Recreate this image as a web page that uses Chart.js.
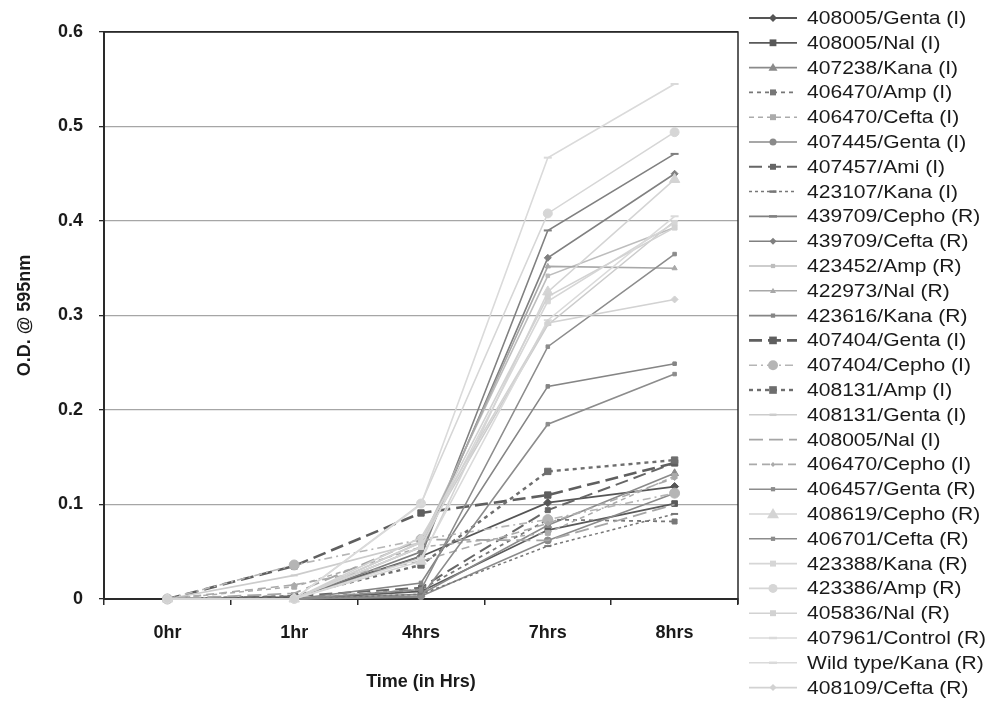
<!DOCTYPE html>
<html>
<head>
<meta charset="utf-8">
<script src="https://cdn.jsdelivr.net/npm/chart.js@4"></script>
<style>
  html, body { margin: 0; padding: 0; background: #fff; }
  #wrap { width: 989px; height: 708px; }
</style>
</head>
<body>
<div id="wrap"><canvas id="odChart" width="989" height="708"></canvas></div>
<script>
const categories = ["0hr", "1hr", "4hrs", "7hrs", "8hrs"];
const yTicks = [0, 0.1, 0.2, 0.3, 0.4, 0.5, 0.6];

const seriesNames = [
  "408005/Genta (I)", "408005/Nal (I)", "407238/Kana (I)", "406470/Amp (I)",
  "406470/Cefta (I)", "407445/Genta (I)", "407457/Ami (I)", "423107/Kana (I)",
  "439709/Cepho (R)", "439709/Cefta (R)", "423452/Amp (R)", "422973/Nal (R)",
  "423616/Kana (R)", "407404/Genta (I)", "407404/Cepho (I)", "408131/Amp (I)",
  "408131/Genta (I)", "408005/Nal (I)", "406470/Cepho (I)", "406457/Genta (R)",
  "408619/Cepho (R)", "406701/Cefta (R)", "423388/Kana (R)", "423386/Amp (R)",
  "405836/Nal (R)", "407961/Control (R)", "Wild type/Kana (R)", "408109/Cefta (R)"
];

const seriesValues = [
  [0, 0.002, 0.045, 0.102, 0.119],
  [0, 0, 0.008, 0.073, 0.101],
  [0, 0, 0.005, 0.078, 0.133],
  [0, 0, 0.010, 0.084, 0.082],
  [0, 0.013, 0.055, 0.070, 0.130],
  [0, 0, 0.003, 0.062, 0.112],
  [0, 0.003, 0.012, 0.094, 0.144],
  [0, 0, 0.005, 0.056, 0.090],
  [0, 0, 0.045, 0.390, 0.471],
  [0, 0, 0.050, 0.361, 0.450],
  [0, 0, 0.060, 0.342, 0.393],
  [0, 0, 0.055, 0.352, 0.350],
  [0, 0, 0.017, 0.225, 0.249],
  [0, 0.035, 0.091, 0.110, 0.144],
  [0, 0.036, 0.063, 0.084, 0.112],
  [0, 0.003, 0.036, 0.135, 0.147],
  [0, 0.025, 0.060, 0.290, 0.400],
  [0, 0.006, 0.063, 0.062, 0.100],
  [0, 0.015, 0.040, 0.080, 0.128],
  [0, 0, 0.002, 0.185, 0.238],
  [0, 0, 0.040, 0.325, 0.444],
  [0, 0, 0.010, 0.267, 0.365],
  [0, 0, 0.055, 0.315, 0.398],
  [0, 0, 0.101, 0.408, 0.494],
  [0, 0, 0.060, 0.320, 0.393],
  [0, 0, 0.043, 0.295, 0.405],
  [0, 0, 0.100, 0.467, 0.545],
  [0, 0, 0.065, 0.292, 0.317]
];

// color, dash, line width, marker, marker radius
const seriesStyles = [
  ["#555555", [], 1.8, "rectRot", 4],
  ["#595959", [], 1.8, "rect", 4],
  ["#8a8a8a", [], 1.6, "triangle", 4.5],
  ["#777777", [4, 4], 1.8, "rect", 3.5],
  ["#ababab", [5, 4], 1.5, "rect", 3.5],
  ["#8a8a8a", [], 1.6, "circle", 3.5],
  ["#666666", [13, 6], 2, "rect", 3.5],
  ["#777777", [3, 3], 1.5, "line", 3.5],
  ["#808080", [], 1.6, "line", 4],
  ["#808080", [], 1.6, "rectRot", 3.5],
  ["#bdbdbd", [], 1.6, "rect", 2.5],
  ["#a8a8a8", [], 1.6, "triangle", 3],
  ["#858585", [], 1.6, "rect", 2.5],
  ["#5f5f5f", [13, 6], 2.6, "rect", 4.5],
  ["#b5b5b5", [8, 4, 2, 4], 1.6, "circle", 5],
  ["#6e6e6e", [4, 4], 2.4, "rect", 4.5],
  ["#cccccc", [], 1.6, "line", 3.5],
  ["#a5a5a5", [14, 6], 1.8, false, 0],
  ["#aaaaaa", [8, 5], 1.6, "rectRot", 2.5],
  ["#8c8c8c", [], 1.6, "rect", 2.5],
  ["#d4d4d4", [], 1.6, "triangle", 6],
  ["#8c8c8c", [], 1.6, "rect", 2.5],
  ["#d6d6d6", [], 1.6, "rect", 3.5],
  ["#d6d6d6", [], 1.6, "circle", 4.5],
  ["#d2d2d2", [], 1.6, "rect", 3.5],
  ["#dadada", [], 1.6, "line", 4],
  ["#dadada", [], 1.6, "line", 4],
  ["#d2d2d2", [], 1.6, "rectRot", 3.5]
];

const datasets = seriesNames.map((name, i) => {
  const [color, dash, width, marker, radius] = seriesStyles[i];
  return {
    label: name,
    data: seriesValues[i],
    borderColor: color,
    backgroundColor: color,
    borderWidth: width,
    borderDash: dash,
    pointStyle: marker,
    pointRadius: marker ? radius : 0,
    pointBorderWidth: marker === "line" ? 2 : 1,
    pointBackgroundColor: color,
    pointBorderColor: color,
    tension: 0,
    clip: false,
    order: -i
  };
});

function drawMarker(ctx, style, x, y, r, color) {
  ctx.save();
  ctx.setLineDash([]);
  ctx.fillStyle = color;
  ctx.strokeStyle = color;
  ctx.beginPath();
  if (style === "rect") {
    ctx.rect(x - r * 0.85, y - r * 0.85, r * 1.7, r * 1.7);
    ctx.fill();
  } else if (style === "rectRot") {
    ctx.moveTo(x, y - r); ctx.lineTo(x + r, y); ctx.lineTo(x, y + r); ctx.lineTo(x - r, y);
    ctx.closePath(); ctx.fill();
  } else if (style === "triangle") {
    ctx.moveTo(x, y - r); ctx.lineTo(x + r, y + r * 0.7); ctx.lineTo(x - r, y + r * 0.7);
    ctx.closePath(); ctx.fill();
  } else if (style === "circle") {
    ctx.arc(x, y, r, 0, Math.PI * 2); ctx.fill();
  } else if (style === "line") {
    ctx.lineWidth = 2.5;
    ctx.moveTo(x - r, y); ctx.lineTo(x + r, y); ctx.stroke();
  }
  ctx.restore();
}

const sideLegend = {
  id: "sideLegend",
  afterDraw(chart) {
    const ctx = chart.ctx;
    ctx.save();
    chart.data.datasets.forEach((ds, i) => {
      const y = 18 + i * 24.8;
      ctx.strokeStyle = ds.borderColor;
      ctx.lineWidth = ds.borderWidth;
      ctx.setLineDash(ds.borderDash);
      ctx.beginPath();
      ctx.moveTo(749, y);
      ctx.lineTo(797, y);
      ctx.stroke();
      if (ds.pointStyle) drawMarker(ctx, ds.pointStyle, 773, y, ds.pointRadius, ds.borderColor);
      ctx.setLineDash([]);
      // legend text in the source is a little wider than plain Arial
      ctx.save();
      ctx.translate(807, y + 1);
      ctx.scale(1.17, 1);
      ctx.fillStyle = "#1a1a1a";
      ctx.font = "18px 'Liberation Sans', Arial, sans-serif";
      ctx.textBaseline = "middle";
      ctx.textAlign = "left";
      ctx.fillText(ds.label, 0, 0);
      ctx.restore();
    });
    ctx.restore();
  }
};

const plotFrame = {
  id: "plotFrame",
  beforeDatasetsDraw(chart) {
    const { ctx, chartArea: a } = chart;
    ctx.save();
    ctx.strokeStyle = "#2a2a2a";
    ctx.lineWidth = 1.5;
    ctx.beginPath();
    ctx.moveTo(a.left, a.top);
    ctx.lineTo(a.right, a.top);
    ctx.lineTo(a.right, a.bottom + 5);
    ctx.stroke();
    ctx.restore();
  }
};

const boldFont = { family: "'Liberation Sans', Arial, sans-serif", size: 18, weight: "bold" };

new Chart(document.getElementById("odChart"), {
  type: "line",
  data: { labels: categories, datasets: datasets },
  options: {
    responsive: false,
    animation: false,
    layout: { padding: { left: 0, right: 251, top: 32, bottom: 0 } },
    plugins: { legend: { display: false }, tooltip: { enabled: false } },
    scales: {
      x: {
        offset: true,
        grid: { offset: true, drawOnChartArea: false, tickLength: 6, color: "#2a2a2a", lineWidth: 1.5 },
        border: { color: "#2a2a2a", width: 2 },
        ticks: { color: "#1a1a1a", font: boldFont, padding: 17, maxRotation: 0 },
        title: { display: true, text: "Time (in Hrs)", color: "#1a1a1a", font: boldFont, padding: { top: 0, bottom: 15 } },
        afterFit(scale) { scale.height = 109; }
      },
      y: {
        min: 0,
        max: 0.6,
        afterBuildTicks(scale) { scale.ticks = yTicks.map(v => ({ value: v })); },
        grid: {
          color: ctx => (ctx.tick && ctx.tick.value === 0.6) ? "#2a2a2a" : "#a6a6a6",
          tickColor: "#2a2a2a",
          tickLength: 5,
          lineWidth: 1.3
        },
        border: { color: "#2a2a2a", width: 2 },
        ticks: {
          color: "#1a1a1a",
          font: boldFont,
          padding: 16,
          callback: v => v === 0 ? "0" : v.toFixed(1)
        },
        title: { display: true, text: "O.D. @ 595nm", color: "#1a1a1a", font: boldFont, padding: { top: 14, bottom: 0 } },
        afterFit(scale) { scale.width = 104; }
      }
    }
  },
  plugins: [plotFrame, sideLegend]
});
</script>
</body>
</html>
